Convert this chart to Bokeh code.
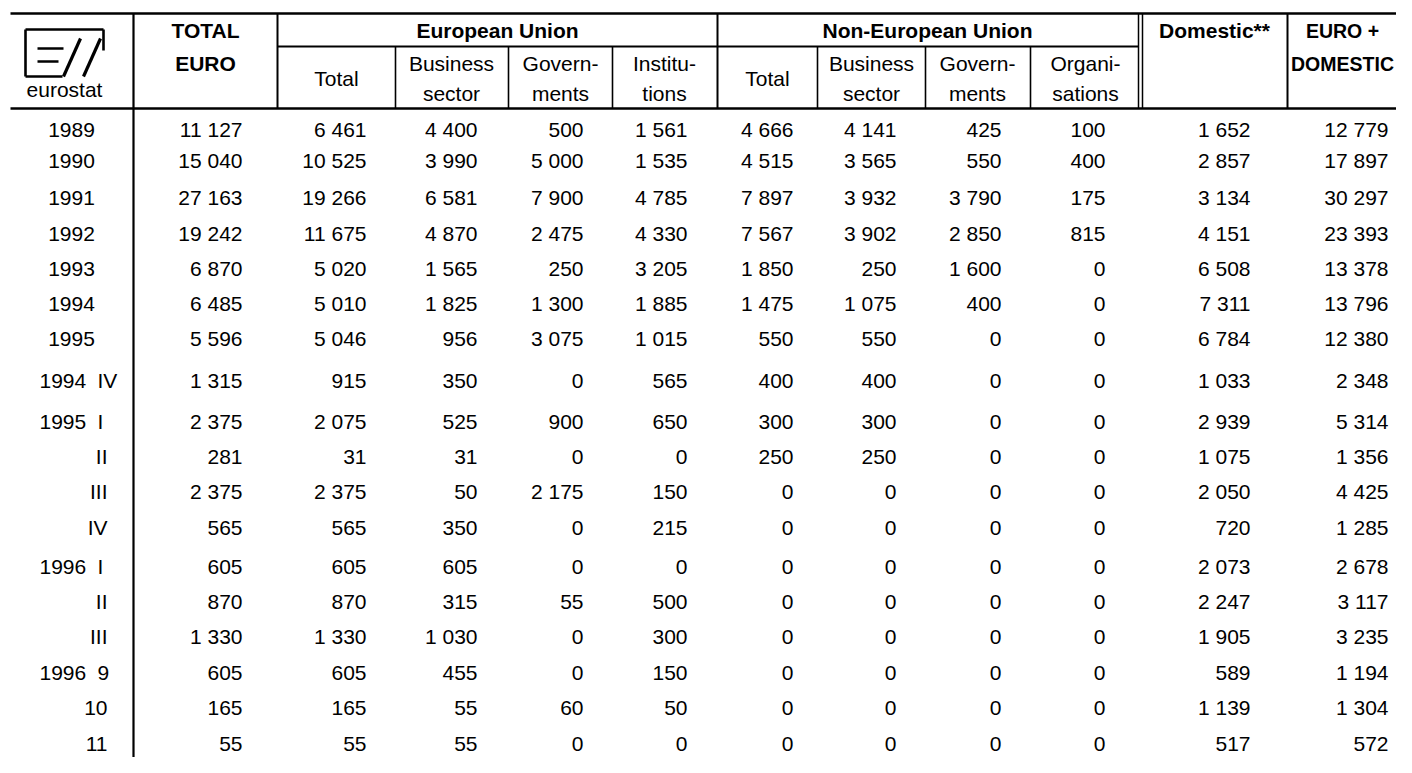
from bokeh.plotting import figure
from bokeh.models import Range1d, ColumnDataSource
from bokeh.core.properties import value
from bokeh.embed import file_html
from bokeh.resources import INLINE

# ---------------- data ----------------
row_years = ["1989", "1990", "1991", "1992", "1993", "1994", "1995", "1994", "1995", "", "", "",
             "1996", "", "", "1996", "", ""]
row_periods = ["", "", "", "", "", "", "", "IV", "I", "II", "III", "IV", "I", "II", "III", "9", "10", "11"]

total_euro = [11127, 15040, 27163, 19242, 6870, 6485, 5596, 1315, 2375, 281, 2375, 565, 605, 870, 1330, 605, 165, 55]
eu_total = [6461, 10525, 19266, 11675, 5020, 5010, 5046, 915, 2075, 31, 2375, 565, 605, 870, 1330, 605, 165, 55]
eu_business = [4400, 3990, 6581, 4870, 1565, 1825, 956, 350, 525, 31, 50, 350, 605, 315, 1030, 455, 55, 55]
eu_governments = [500, 5000, 7900, 2475, 250, 1300, 3075, 0, 900, 0, 2175, 0, 0, 55, 0, 0, 60, 0]
eu_institutions = [1561, 1535, 4785, 4330, 3205, 1885, 1015, 565, 650, 0, 150, 215, 0, 500, 300, 150, 50, 0]
neu_total = [4666, 4515, 7897, 7567, 1850, 1475, 550, 400, 300, 250, 0, 0, 0, 0, 0, 0, 0, 0]
neu_business = [4141, 3565, 3932, 3902, 250, 1075, 550, 400, 300, 250, 0, 0, 0, 0, 0, 0, 0, 0]
neu_governments = [425, 550, 3790, 2850, 1600, 400, 0, 0, 0, 0, 0, 0, 0, 0, 0, 0, 0, 0]
neu_organisations = [100, 400, 175, 815, 0, 0, 0, 0, 0, 0, 0, 0, 0, 0, 0, 0, 0, 0]
domestic = [1652, 2857, 3134, 4151, 6508, 7311, 6784, 1033, 2939, 1075, 2050, 720, 2073, 2247, 1905, 589, 1139, 517]
euro_domestic = [12779, 17897, 30297, 23393, 13378, 13796, 12380, 2348, 5314, 1356, 4425, 1285, 2678, 3117, 3235, 1194, 1304, 572]

columns = [total_euro, eu_total, eu_business, eu_governments, eu_institutions,
           neu_total, neu_business, neu_governments, neu_organisations, domestic, euro_domestic]

top_headers = [["TOTAL", "EURO"], ["European Union"], ["Non-European Union"], ["Domestic**"], ["EURO +", "DOMESTIC"]]
sub_headers = [["Total"], ["Business", "sector"], ["Govern-", "ments"], ["Institu-", "tions"],
               ["Total"], ["Business", "sector"], ["Govern-", "ments"], ["Organi-", "sations"]]

# ---------------- layout (reference pixel coordinates) ----------------
FONT = value("Liberation Sans")
FS = "21px"
TOP, MID, HDR_BOTTOM, BOTTOM = 13, 46, 108, 775
LEFT, RIGHT = 10, 1412
V_MAIN = [133, 277, 717, 1287]
V_DOUBLE = [1138, 1142]
V_SUB = [395, 508, 612, 817, 925, 1030]
COL_RIGHT = [242, 366, 477, 583, 687, 793, 896, 1001, 1105, 1250, 1388]
ROW_Y = [129, 160, 197, 233, 268, 303, 338, 380, 421, 456, 491, 527, 566, 601, 636, 672, 707, 743]
TOP_CENTERS = [205, 497, 927, 1214, 1342]
TOP_SIZES = ["21px", "21px", "21px", "21px", "19.5px"]
SUB_CENTERS = [336, 451, 560, 664, 767, 871, 977, 1085]


def fmt(v):
    return f"{v:,}".replace(",", " ")


p = figure(width=1396, height=757, x_range=Range1d(0, 1396), y_range=Range1d(757, 0),
           output_backend="svg", toolbar_location=None, min_border=0,
           x_axis_type=None, y_axis_type=None)
p.grid.visible = False
p.outline_line_color = None
p.background_fill_color = "white"

# grid lines
p.segment(x0=[LEFT, LEFT], y0=[TOP, HDR_BOTTOM], x1=[RIGHT, RIGHT], y1=[TOP, HDR_BOTTOM],
          line_color="black", line_width=2.5)
p.segment(x0=[277], y0=[MID], x1=[1138], y1=[MID], line_color="black", line_width=1.8)
p.segment(x0=[V_MAIN[0]], y0=[TOP], x1=[V_MAIN[0]], y1=[BOTTOM], line_color="black", line_width=2.2)
p.segment(x0=V_MAIN[1:], y0=[TOP] * 3, x1=V_MAIN[1:], y1=[HDR_BOTTOM] * 3, line_color="black", line_width=2)
p.segment(x0=V_DOUBLE, y0=[TOP] * 2, x1=V_DOUBLE, y1=[HDR_BOTTOM] * 2, line_color="black", line_width=1.5)
p.segment(x0=V_SUB, y0=[MID] * len(V_SUB), x1=V_SUB, y1=[HDR_BOTTOM] * len(V_SUB),
          line_color="black", line_width=1.6)

# logo (E/S mark)
lx0 = [25, 25, 25, 37, 37, 103]
ly0 = [29, 29, 76, 48, 61, 29]
lx1 = [103, 25, 62, 63, 58, 103]
ly1 = [29, 76, 76, 48, 61, 50]
p.segment(x0=lx0, y0=ly0, x1=lx1, y1=ly1, line_color="black", line_width=2.6)
p.segment(x0=[63, 83], y0=[76, 76], x1=[80, 100], y1=[38, 38], line_color="black", line_width=3.2)
p.text(x=[64], y=[89], text=["eurostat"], text_align="center", text_baseline="middle",
       text_font=FONT, text_font_size="21px", text_color="black")

# top headers
for cx, lines, fs in zip(TOP_CENTERS, top_headers, TOP_SIZES):
    p.text(x=[cx] * len(lines), y=[30 + 33 * i for i in range(len(lines))], text=lines,
           text_align="center", text_baseline="middle",
           text_font=FONT, text_font_size=fs, text_font_style="bold", text_color="black")

# sub headers
sx, sy, st = [], [], []
for cx, lines in zip(SUB_CENTERS, sub_headers):
    if len(lines) == 1:
        sx.append(cx); sy.append(78); st.append(lines[0])
    else:
        for i, t in enumerate(lines):
            sx.append(cx); sy.append(63 + 30 * i); st.append(t)
p.text(x=sx, y=sy, text=st, text_align="center", text_baseline="middle",
       text_font=FONT, text_font_size=FS, text_color="black")

# row labels
cx_, cy_, ct_ = [], [], []   # year-only rows, centred
ax, ay, at = [], [], []      # year part of year+period rows
bx, by, bt = [], [], []      # period following a year (left aligned)
dx, dy, dt = [], [], []      # period alone (right aligned)
for yr, per, y in zip(row_years, row_periods, ROW_Y):
    if per == "":
        cx_.append(71); cy_.append(y); ct_.append(yr)
    elif yr:
        ax.append(39); ay.append(y); at.append(yr)
        bx.append(97); by.append(y); bt.append(per)
    else:
        dx.append(107); dy.append(y); dt.append(per)
p.text(x=cx_, y=cy_, text=ct_, text_align="center", text_baseline="middle",
       text_font=FONT, text_font_size=FS, text_color="black")
p.text(x=ax, y=ay, text=at, text_align="left", text_baseline="middle",
       text_font=FONT, text_font_size=FS, text_color="black")
p.text(x=bx, y=by, text=bt, text_align="left", text_baseline="middle",
       text_font=FONT, text_font_size=FS, text_color="black")
p.text(x=dx, y=dy, text=dt, text_align="right", text_baseline="middle",
       text_font=FONT, text_font_size=FS, text_color="black")

# numbers
nx, ny, nt = [], [], []
for xr, col in zip(COL_RIGHT, columns):
    for y, v in zip(ROW_Y, col):
        nx.append(xr); ny.append(y); nt.append(fmt(v))
src = ColumnDataSource(dict(x=nx, y=ny, t=nt))
p.text(x="x", y="y", text="t", source=src, text_align="right", text_baseline="middle",
       text_font=FONT, text_font_size=FS, text_color="black")

open("out.html", "w").write(file_html(p, INLINE))
